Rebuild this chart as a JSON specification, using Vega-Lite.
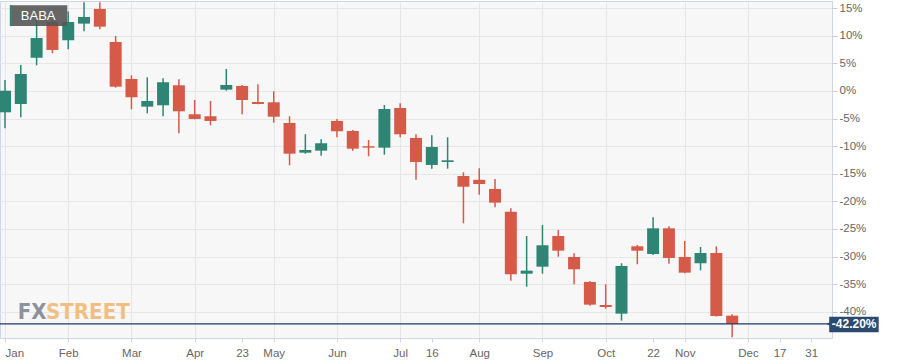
{
  "$schema": "https://vega.github.io/schema/vega-lite/v6.json",
  "width": 832,
  "height": 337,
  "autosize": {"type": "none"},
  "padding": {"left": 0, "top": 1, "right": 70, "bottom": 26},
  "background": "#ffffff",
  "view": {"fill": "#f7f7f7", "stroke": "#ccd6eb", "strokeWidth": 1},
  "config": {
    "font": "Liberation Sans",
    "axis": {"labelFont": "Liberation Sans", "labelFontSize": 11.5, "labelColor": "#666666"},
    "axisY": {"tickCount": 13}
  },
  "datasets": {
    "candles": [
      {"date": "2018-01-01", "i": 0, "open": -3.86, "high": 2.0, "low": -6.76, "close": 0.05},
      {"date": "2018-01-08", "i": 1, "open": -2.36, "high": 4.71, "low": -4.77, "close": 3.08},
      {"date": "2018-01-15", "i": 2, "open": 6.03, "high": 12.9, "low": 4.65, "close": 9.6},
      {"date": "2018-01-22", "i": 3, "open": 12.5, "high": 12.9, "low": 6.83, "close": 7.43},
      {"date": "2018-01-29", "i": 4, "open": 9.18, "high": 14.4, "low": 7.55, "close": 12.5},
      {"date": "2018-02-05", "i": 5, "open": 12.2, "high": 16.07, "low": 10.8, "close": 13.4},
      {"date": "2018-02-12", "i": 6, "open": 14.86, "high": 16.07, "low": 11.18, "close": 11.65},
      {"date": "2018-02-19", "i": 7, "open": 8.88, "high": 9.96, "low": 0.6, "close": 0.78},
      {"date": "2018-02-26", "i": 8, "open": 2.17, "high": 2.84, "low": -3.32, "close": -1.14},
      {"date": "2018-03-05", "i": 9, "open": -2.84, "high": 2.48, "low": -4.04, "close": -1.81},
      {"date": "2018-03-12", "i": 10, "open": -2.59, "high": 2.3, "low": -4.58, "close": 1.58},
      {"date": "2018-03-19", "i": 11, "open": 1.03, "high": 2.12, "low": -7.66, "close": -3.68},
      {"date": "2018-03-26", "i": 12, "open": -4.22, "high": -1.63, "low": -5.13, "close": -5.07},
      {"date": "2018-04-02", "i": 13, "open": -4.58, "high": -1.81, "low": -6.21, "close": -5.43},
      {"date": "2018-04-09", "i": 14, "open": 0.24, "high": 3.99, "low": 0.05, "close": 1.09},
      {"date": "2018-04-16", "i": 15, "open": 0.91, "high": 1.09, "low": -4.22, "close": -1.63},
      {"date": "2018-04-23", "i": 16, "open": -1.99, "high": 1.21, "low": -2.41, "close": -2.36},
      {"date": "2018-04-30", "i": 17, "open": -2.05, "high": -0.05, "low": -5.74, "close": -4.66},
      {"date": "2018-05-07", "i": 18, "open": -5.8, "high": -4.58, "low": -13.46, "close": -11.36},
      {"date": "2018-05-14", "i": 19, "open": -11.18, "high": -7.84, "low": -11.36, "close": -10.69},
      {"date": "2018-05-21", "i": 20, "open": -10.81, "high": -8.75, "low": -11.72, "close": -9.47},
      {"date": "2018-05-28", "i": 21, "open": -5.43, "high": -5.07, "low": -8.39, "close": -7.3},
      {"date": "2018-06-04", "i": 22, "open": -7.25, "high": -7.07, "low": -10.81, "close": -10.45},
      {"date": "2018-06-11", "i": 23, "open": -10.02, "high": -8.88, "low": -11.83, "close": -10.27},
      {"date": "2018-06-18", "i": 24, "open": -10.27, "high": -2.54, "low": -11.54, "close": -3.26},
      {"date": "2018-06-25", "i": 25, "open": -3.08, "high": -2.23, "low": -8.39, "close": -7.84},
      {"date": "2018-07-02", "i": 26, "open": -8.51, "high": -7.84, "low": -16.1, "close": -12.86},
      {"date": "2018-07-09", "i": 27, "open": -13.4, "high": -8.03, "low": -14.07, "close": -10.14},
      {"date": "2018-07-16", "i": 28, "open": -12.86, "high": -8.39, "low": -14.07, "close": -12.56},
      {"date": "2018-07-23", "i": 29, "open": -15.4, "high": -14.73, "low": -23.97, "close": -17.34},
      {"date": "2018-07-30", "i": 30, "open": -16.1, "high": -14.0, "low": -18.8, "close": -16.85},
      {"date": "2018-08-06", "i": 31, "open": -17.75, "high": -15.94, "low": -21.07, "close": -20.23},
      {"date": "2018-08-13", "i": 32, "open": -21.87, "high": -21.25, "low": -34.37, "close": -33.21},
      {"date": "2018-08-20", "i": 33, "open": -33.1, "high": -26.27, "low": -35.45, "close": -32.55},
      {"date": "2018-08-27", "i": 34, "open": -31.83, "high": -24.28, "low": -33.1, "close": -27.95},
      {"date": "2018-09-03", "i": 35, "open": -26.27, "high": -25.18, "low": -30.02, "close": -28.93},
      {"date": "2018-09-10", "i": 36, "open": -30.07, "high": -29.4, "low": -35.02, "close": -32.3},
      {"date": "2018-09-17", "i": 37, "open": -34.6, "high": -34.42, "low": -38.9, "close": -38.71},
      {"date": "2018-09-24", "i": 38, "open": -38.77, "high": -35.02, "low": -39.44, "close": -39.13},
      {"date": "2018-10-01", "i": 39, "open": -40.34, "high": -31.21, "low": -41.61, "close": -31.7},
      {"date": "2018-10-08", "i": 40, "open": -28.14, "high": -27.9, "low": -31.4, "close": -28.93},
      {"date": "2018-10-15", "i": 41, "open": -29.53, "high": -22.88, "low": -29.71, "close": -24.88},
      {"date": "2018-10-22", "i": 42, "open": -24.88, "high": -24.52, "low": -31.28, "close": -30.25},
      {"date": "2018-10-29", "i": 43, "open": -30.07, "high": -27.17, "low": -33.03, "close": -32.91},
      {"date": "2018-11-05", "i": 44, "open": -31.21, "high": -28.26, "low": -32.49, "close": -29.35},
      {"date": "2018-11-12", "i": 45, "open": -29.35, "high": -28.14, "low": -40.88, "close": -40.76},
      {"date": "2018-11-19", "i": 46, "open": -40.7, "high": -40.46, "low": -44.6, "close": -42.2}
    ],
    "last": [{"close": -42.2, "label": "-42.20%"}]
  },
  "layer": [
    {
      "data": {"name": "candles"},
      "mark": {"type": "rule", "strokeWidth": 1.5},
      "encoding": {
        "x": {
          "field": "i", "type": "quantitative",
          "scale": {"domain": [0, 52], "nice": false, "zero": false},
          "axis": {
            "title": null,
            "values": [0, 4, 8, 12, 15, 17, 21, 25, 27, 30, 34, 38, 41, 43, 47, 49, 51],
            "labelExpr": "({'0':'Jan','4':'Feb','8':'Mar','12':'Apr','15':'23','17':'May','21':'Jun','25':'Jul','27':'16','30':'Aug','34':'Sep','38':'Oct','41':'22','43':'Nov','47':'Dec','49':'17','51':'31'})[''+datum.value]",
            "labelFlush": false,
            "labelOverlap": false,
            "labelAlign": {"condition": {"test": "datum.value == 0", "value": "left"}, "value": "center"},
            "labelPadding": 5,
            "tickSize": 4,
            "tickColor": "#ccd6eb",
            "domainColor": "#ccd6eb",
            "grid": true,
            "gridColor": "#e6e6e6",
            "gridOpacity": {"condition": {"test": "indexof([15, 27, 41, 49, 51], datum.value) >= 0", "value": 0}, "value": 1}
          }
        },
        "y": {
          "field": "low", "type": "quantitative",
          "scale": {"domain": [-44.75, 16.3], "nice": false, "zero": false},
          "axis": {"title": null, "orient": "right", "values": [-40, -35, -30, -25, -20, -15, -10, -5, 0, 5, 10, 15], "labelExpr": "datum.value + '%'", "labelOverlap": false, "labelFlush": false, "labelBound": false, "labelPadding": 2, "tickSize": 5, "tickColor": "#cccccc", "domainColor": "#ccd6eb", "grid": true, "gridColor": "#e6e6e6"}
        },
        "y2": {"field": "high"},
        "color": {"condition": {"test": "datum.close >= datum.open", "value": "#2e8574"}, "value": "#d65a48"}
      }
    },
    {
      "data": {"name": "candles"},
      "mark": {"type": "bar", "width": 12},
      "encoding": {
        "x": {"field": "i", "type": "quantitative"},
        "y": {"field": "open", "type": "quantitative",
          "axis": {"title": null, "orient": "right", "values": [-40, -35, -30, -25, -20, -15, -10, -5, 0, 5, 10, 15], "labelExpr": "datum.value + '%'", "labelOverlap": false, "labelFlush": false, "labelBound": false, "labelPadding": 2, "tickSize": 5, "tickColor": "#cccccc", "domainColor": "#ccd6eb", "grid": true, "gridColor": "#e6e6e6"}},
        "y2": {"field": "close"},
        "color": {"condition": {"test": "datum.close >= datum.open", "value": "#2e8574"}, "value": "#d65a48"}
      }
    },
    {
      "data": {"name": "last"},
      "mark": {"type": "rule", "color": "#1c3a66", "strokeWidth": 1.2},
      "encoding": {"y": {"field": "close", "type": "quantitative",
        "axis": {"title": null, "orient": "right", "values": [-40, -35, -30, -25, -20, -15, -10, -5, 0, 5, 10, 15], "labelExpr": "datum.value + '%'", "labelOverlap": false, "labelFlush": false, "labelBound": false, "labelPadding": 2, "tickSize": 5, "tickColor": "#cccccc", "domainColor": "#ccd6eb", "grid": true, "gridColor": "#e6e6e6"}}}
    },
    {
      "data": {"name": "last"},
      "mark": {"type": "rect", "color": "#2c4a6e"},
      "encoding": {
        "x": {"datum": 52.14, "type": "quantitative"},
        "x2": {"datum": 55.27},
        "y": {"datum": -40.89, "type": "quantitative",
          "axis": {"title": null, "orient": "right", "values": [-40, -35, -30, -25, -20, -15, -10, -5, 0, 5, 10, 15], "labelExpr": "datum.value + '%'", "labelOverlap": false, "labelFlush": false, "labelBound": false, "labelPadding": 2, "tickSize": 5, "tickColor": "#cccccc", "domainColor": "#ccd6eb", "grid": true, "gridColor": "#e6e6e6"}},
        "y2": {"datum": -43.71}
      }
    },
    {
      "data": {"name": "last"},
      "mark": {"type": "point", "shape": "triangle-left", "filled": true, "color": "#2c4a6e", "size": 28, "opacity": 1},
      "encoding": {
        "x": {"datum": 52.12, "type": "quantitative"},
        "y": {"field": "close", "type": "quantitative",
          "axis": {"title": null, "orient": "right", "values": [-40, -35, -30, -25, -20, -15, -10, -5, 0, 5, 10, 15], "labelExpr": "datum.value + '%'", "labelOverlap": false, "labelFlush": false, "labelBound": false, "labelPadding": 2, "tickSize": 5, "tickColor": "#cccccc", "domainColor": "#ccd6eb", "grid": true, "gridColor": "#e6e6e6"}}
      }
    },
    {
      "data": {"name": "last"},
      "mark": {"type": "text", "color": "#ffffff", "fontSize": 12, "fontWeight": "bold", "align": "center", "baseline": "middle"},
      "encoding": {
        "x": {"datum": 53.72, "type": "quantitative"},
        "y": {"field": "close", "type": "quantitative",
          "axis": {"title": null, "orient": "right", "values": [-40, -35, -30, -25, -20, -15, -10, -5, 0, 5, 10, 15], "labelExpr": "datum.value + '%'", "labelOverlap": false, "labelFlush": false, "labelBound": false, "labelPadding": 2, "tickSize": 5, "tickColor": "#cccccc", "domainColor": "#ccd6eb", "grid": true, "gridColor": "#e6e6e6"}},
        "text": {"field": "label"}
      }
    },
    {
      "data": {"values": [{"name": "BABA"}]},
      "mark": {"type": "rect", "color": "#555555", "opacity": 0.9},
      "encoding": {
        "x": {"datum": 0.31, "type": "quantitative"},
        "x2": {"datum": 3.94},
        "y": {"datum": 15.55, "type": "quantitative",
          "axis": {"title": null, "orient": "right", "values": [-40, -35, -30, -25, -20, -15, -10, -5, 0, 5, 10, 15], "labelExpr": "datum.value + '%'", "labelOverlap": false, "labelFlush": false, "labelBound": false, "labelPadding": 2, "tickSize": 5, "tickColor": "#cccccc", "domainColor": "#ccd6eb", "grid": true, "gridColor": "#e6e6e6"}},
        "y2": {"datum": 11.75}
      }
    },
    {
      "data": {"values": [{"name": "BABA"}]},
      "mark": {"type": "rect", "color": "#2e8574"},
      "encoding": {
        "x": {"datum": 0.31, "type": "quantitative"},
        "x2": {"datum": 0.44},
        "y": {"datum": 15.55, "type": "quantitative",
          "axis": {"title": null, "orient": "right", "values": [-40, -35, -30, -25, -20, -15, -10, -5, 0, 5, 10, 15], "labelExpr": "datum.value + '%'", "labelOverlap": false, "labelFlush": false, "labelBound": false, "labelPadding": 2, "tickSize": 5, "tickColor": "#cccccc", "domainColor": "#ccd6eb", "grid": true, "gridColor": "#e6e6e6"}},
        "y2": {"datum": 11.75}
      }
    },
    {
      "data": {"values": [{"name": "BABA"}]},
      "mark": {"type": "text", "color": "#ffffff", "fontSize": 13, "align": "left", "baseline": "middle"},
      "encoding": {
        "x": {"datum": 1.0, "type": "quantitative"},
        "y": {"datum": 13.6, "type": "quantitative",
          "axis": {"title": null, "orient": "right", "values": [-40, -35, -30, -25, -20, -15, -10, -5, 0, 5, 10, 15], "labelExpr": "datum.value + '%'", "labelOverlap": false, "labelFlush": false, "labelBound": false, "labelPadding": 2, "tickSize": 5, "tickColor": "#cccccc", "domainColor": "#ccd6eb", "grid": true, "gridColor": "#e6e6e6"}},
        "text": {"field": "name"}
      }
    },
    {
      "data": {"values": [{"t": "FX"}]},
      "mark": {"type": "text", "color": "#8e9199", "font": "DejaVu Sans Condensed", "fontWeight": "bold", "fontSize": 22, "align": "left", "baseline": "alphabetic"},
      "encoding": {
        "x": {"datum": 0.8, "type": "quantitative"},
        "y": {"datum": -41.3, "type": "quantitative",
          "axis": {"title": null, "orient": "right", "values": [-40, -35, -30, -25, -20, -15, -10, -5, 0, 5, 10, 15], "labelExpr": "datum.value + '%'", "labelOverlap": false, "labelFlush": false, "labelBound": false, "labelPadding": 2, "tickSize": 5, "tickColor": "#cccccc", "domainColor": "#ccd6eb", "grid": true, "gridColor": "#e6e6e6"}},
        "text": {"field": "t"}
      }
    },
    {
      "data": {"values": [{"t": "STREET"}]},
      "mark": {"type": "text", "color": "#f0bf83", "font": "DejaVu Sans Condensed", "fontWeight": "bold", "fontSize": 22, "align": "left", "baseline": "alphabetic"},
      "encoding": {
        "x": {"datum": 2.6, "type": "quantitative"},
        "y": {"datum": -41.3, "type": "quantitative",
          "axis": {"title": null, "orient": "right", "values": [-40, -35, -30, -25, -20, -15, -10, -5, 0, 5, 10, 15], "labelExpr": "datum.value + '%'", "labelOverlap": false, "labelFlush": false, "labelBound": false, "labelPadding": 2, "tickSize": 5, "tickColor": "#cccccc", "domainColor": "#ccd6eb", "grid": true, "gridColor": "#e6e6e6"}},
        "text": {"field": "t"}
      }
    }
  ]
}
